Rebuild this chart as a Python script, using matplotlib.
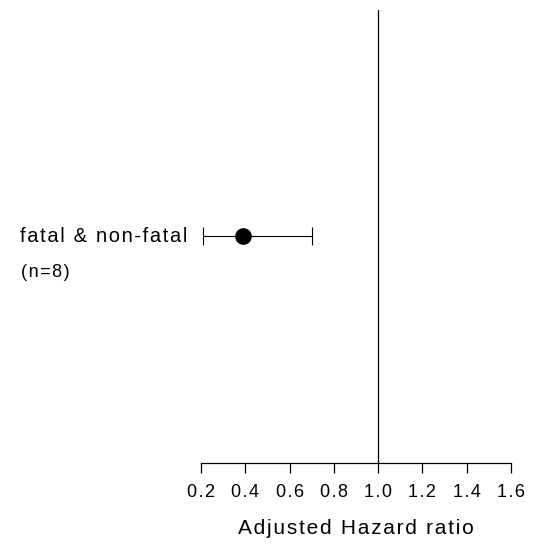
import numpy as np
import matplotlib.pyplot as plt

plt.rcParams['font.family'] = ['Liberation Sans', 'DejaVu Sans']

labels = ["fatal & non-fatal"]
counts = ["(n=8)"]
hr = [0.39]
ci_low = [0.21]
ci_high = [0.70]
ticks = [0.2, 0.4, 0.6, 0.8, 1.0, 1.2, 1.4, 1.6]


def spaced(s, gap="\u200a"):
    # letter spacing like the original
    return gap.join(s)


fig = plt.figure(figsize=(5.43, 5.46), dpi=100)
ax = fig.add_axes([201/543, 83.3/546, 310/543, 452.7/546])
ax.set_xlim(0.2, 1.6)
ax.set_ylim(0, 1)

ypos = [0.5]
for i in range(len(hr)):
    ax.errorbar(hr[i], ypos[i], xerr=[[hr[i]-ci_low[i]], [ci_high[i]-hr[i]]],
                fmt='o', color='black', ms=11, elinewidth=0.8, capsize=6.5,
                capthick=0.8, clip_on=False)
    ax.text(-0.045, ypos[i], spaced(labels[i]), transform=ax.get_yaxis_transform(),
            ha='right', va='center', fontsize=14.5, clip_on=False)
    ax.text(-0.58, ypos[i]-0.08, spaced(counts[i]), transform=ax.get_yaxis_transform(),
            ha='left', va='center', fontsize=13, clip_on=False)

ax.axvline(1.0, color='black', lw=0.9)

for s in ['top', 'right', 'left']:
    ax.spines[s].set_visible(False)
ax.spines['bottom'].set_linewidth(0.9)
ax.set_yticks([])
ax.set_xticks(ticks)
ax.set_xticklabels([spaced("%.1f" % t) for t in ticks], fontsize=13)
ax.tick_params(axis='x', length=7, width=0.9, pad=8)
ax.set_xlabel(spaced("Adjusted Hazard ratio"), fontsize=15, labelpad=13)

fig.savefig("out.png", dpi=100)
